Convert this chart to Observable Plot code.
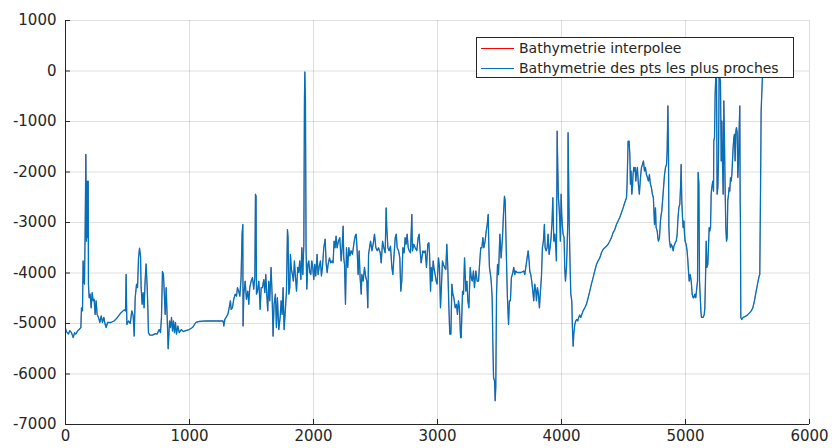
<!DOCTYPE html>
<html>
<head>
<meta charset="utf-8">
<script src="https://cdn.jsdelivr.net/npm/d3@7"></script>
<script src="https://cdn.jsdelivr.net/npm/@observablehq/plot@0.6"></script>
<style>
  html, body { margin: 0; padding: 0; background: #fff; }
  #wrap { position: relative; width: 835px; height: 448px; overflow: hidden; }
  #legend {
    position: absolute; left: 476px; top: 37px; width: 318px; height: 41px;
    background: #fff; border: 1px solid #262626; box-sizing: border-box;
    font-family: "DejaVu Sans", sans-serif; font-size: 14px; color: #262626;
  }
  #legend .row { position: absolute; left: 0; height: 20px; display: flex; align-items: center; white-space: nowrap; }
  #legend .sw { width: 33px; height: 0; border-top: 1px solid; margin-left: 4px; margin-right: 5px; }
</style>
</head>
<body>
<div id="wrap"></div>
<script>
// x tick values / y tick values
const xTicks = [0, 1000, 2000, 3000, 4000, 5000, 6000];
const yTicks = [-7000, -6000, -5000, -4000, -3000, -2000, -1000, 0, 1000];
const seriesNames = ["Bathymetrie interpolee", "Bathymetrie des pts les plus proches"];
const seriesColors = ["#FF0000", "#0072BD"];

// profile abscissa
const distance = [
  0,8,24,35,48,62,73,83,97,110,124,129,137,142,148,153,159,164,169,175,
  180,183,185,191,199,207,215,223,231,239,247,255,266,277,288,298,309,320,328,339,
  366,392,419,446,473,484,489,495,508,522,535,546,554,562,573,581,589,597,605,610,
  618,626,634,642,650,659,664,669,680,702,723,739,755,766,774,782,790,796,804,812,
  820,828,839,847,855,863,871,879,887,895,906,917,933,949,970,997,1024,1051,1078,1132,1185,
  1271,1277,1285,1295,1309,1320,1330,1336,1346,1357,1368,1379,1387,1397,1406,1416,1424,1430,1432,1438,
  1449,1459,1470,1478,1486,1497,1508,1518,1527,1532,1537,1540,1548,1559,1570,1578,1588,1599,1607,1615,
  1623,1631,1639,1647,1658,1666,1674,1682,1693,1701,1709,1720,1731,1739,1747,1755,1763,1774,1782,1790,
  1795,1801,1809,1814,1822,1830,1838,1846,1854,1863,1873,1881,1889,1898,1906,1914,1922,1927,1930,1935,
  1940,1946,1954,1962,1970,1978,1986,1994,2002,2010,2018,2029,2037,2045,2056,2064,2072,2083,2094,2102,
  2110,2118,2129,2139,2150,2158,2166,2174,2182,2190,2201,2212,2223,2231,2239,2244,2250,2258,2266,2276,
  2285,2293,2303,2314,2325,2336,2344,2352,2360,2368,
  2371,2376,2385,2390,2401,2411,2422,2430,2438,2444,2452,2460,2471,2481,2492,2503,2514,2524,2538,2546,
  2557,2567,2578,2586,2591,2600,2610,2621,2632,2640,2648,2659,2667,2675,2686,2696,2704,2712,2721,2731,
  2739,2747,2755,2764,2772,2782,2793,2798,2809,2820,2833,2844,2852,2860,2868,2874,2882,2890,2901,2911,
  2922,2930,2936,2944,2949,2957,2965,2971,2981,2989,2997,3008,3016,3024,3030,3040,3048,3057,3067,3075,
  3083,3091,3099,3108,3116,3124,3132,3143,3153,3161,3169,3177,3186,3191,3202,3210,3218,3229,3237,3245,
  3253,3264,3272,3280,3290,3298,3309,3320,3331,3341,3349,3358,3366,3374,3384,3393,3401,3409,3414,3419,
  3427,3433,3441,3446,3452,3460,3465,3470,3476,3484,3492,3503,3513,3524,3532,3540,3546,3551,3559,3564,3573,
  3580,3588,3596,3604,3615,3623,3631,3642,3674,3696,3704,3712,3723,3731,3739,3744,3752,3760,3771,3776,
  3784,3793,3798,3806,3814,3822,3830,3838,3846,3854,3862,3868,3876,3884,3892,3900,3908,3916,3924,3930,
  3938,3946,3954,3959,3965,3970,3975,3981,3986,3991,3997,4002,4008,4013,4021,4026,4032,4040,4045,4051,
  4053,4059,4064,4069,4075,4083,4088,4094,4099,4107,4115,4123,4131,4139,4147,4155,4164,4174,4188,4201,
  4215,4228,4241,4255,4268,4282,4295,4309,4322,4336,4349,4362,4376,4389,4403,4416,4430,4443,4456,4470,
  4483,4497,4510,4524,4529,4537,4545,4551,4556,4561,4567,4572,4577,4583,4588,4594,4599,4604,4612,4620,
  4628,4637,4645,4653,4661,4669,4677,4685,4693,4701,4709,4717,4725,4733,4741,4750,
  4758,4763,4772,4777,4782,4790,4798,4804,4809,4817,4825,4831,4839,4847,4852,4858,4863,4866,4871,4879,
  4884,4892,4901,4906,4917,4925,4933,4938,4946,4954,4960,4965,4970,4976,4981,4987,4992,4997,5005,5013,
  5019,5024,5030,5038,5046,5054,5062,5067,5075,5083,5091,5097,5102,5108,5113,5118,5124,5129,5142,5151,
  5156,5161,5167,5172,5180,5185,5191,5196,5202,5207,5212,5220,5226,5228,5234,5239,5245,5250,5255,5261,
  5266,5271,5277,5282,5288,5293,5298,5304,5309,5314,5320,5325,5331,5336,5341,5347,5352,5357,5363,5368,
  5374,5379,5384,5390,5395,5400,5406,5411,5417,5422,5427,5433,5438,5441,5443,5446,5454,5465,5476,5489,
  5503,5516,5530,5543,5556,5570,5583,5594,5599,5605,5610,5616,5621
];

// depth of the nearest points
const depthNearest = [
  -5100,-5160,-5210,-5140,-5180,-5280,-5180,-5210,-5150,-5120,-5080,-4690,-4750,-3760,-4160,-4220,-3040,-1650,-3370,-2180,
  -3300,-2180,-4220,-4490,-4420,-4690,-4390,-4550,-4520,-4820,-4550,-4820,-4880,-4980,-4850,-4980,-4880,-5020,-5080,-4980,
  -4980,-4950,-4880,-4790,-4730,-4750,-4030,-5020,-4950,-5000,-4750,-4850,-5250,-4490,-4220,-4290,-3700,-3510,-3660,-4290,
  -4620,-4390,-4690,-4160,-3820,-4290,-4690,-5180,-5230,-5230,-5200,-5210,-5120,-5180,-4880,-3970,-4030,-4360,-4820,-4290,
  -4880,-5500,-4950,-5080,-4880,-5150,-4950,-5180,-4980,-5210,-5050,-5180,-5120,-5160,-5140,-5120,-5080,-4980,-4960,-4950,-4950,
  -4950,-5050,-4920,-4880,-4820,-4690,-4550,-4720,-4690,-4520,-4420,-4460,-4290,-4360,-4460,-4090,-3230,-3040,-5050,-4420,
  -4160,-4520,-4360,-4620,-4290,-4160,-4090,-4320,-4090,-2440,-2480,-4420,-4360,-4160,-4720,-4290,-4290,-4130,-4390,-4030,
  -4420,-4750,-4160,-4550,-3890,-4420,-5250,-4620,-4420,-5080,-4490,-5120,-4880,-4550,-4820,-4290,-5120,-4690,-4360,-3140,
  -3300,-4420,-4290,-3630,-3930,-4030,-4160,-3760,-4060,-4360,-3890,-3990,-3760,-4130,-3500,-4030,-3430,-560,-20,-560,
  -3500,-4320,-3830,-3760,-3990,-4030,-3760,-3890,-4130,-3830,-4060,-3630,-4030,-3890,-3760,-4060,-3890,-3500,-3330,-3800,
  -3990,-3830,-3700,-3800,-3760,-3800,-3370,-3500,-3270,-3500,-3370,-3300,-3760,-3500,-3070,-3700,-3830,-4620,-3500,-3890,
  -3500,-3660,-3560,-3630,-3430,-3270,-3230,-3560,-4030,-3560,
  -3760,-4090,-4420,-4030,-4160,-3890,-4090,-4160,-4690,-3630,-3500,-3370,-3560,-3430,-3230,-3500,-3560,-3500,-3600,-3800,
  -3370,-3500,-3600,-2710,-3100,-3500,-3560,-3470,-3890,-4030,-3700,-3300,-3230,-3500,-3560,-3700,-4360,-4160,-3500,-3600,
  -3300,-3430,-3230,-3500,-3560,-3600,-2840,-3560,-3430,-3500,-3560,-3300,-3230,-3560,-3800,-3700,-3560,-3600,-3560,-3890,
  -3430,-3400,-3630,-4360,-3890,-4160,-3760,-3890,-4030,-4160,-4220,-3700,-3890,-4690,-4360,-3760,-3830,-3890,-3930,-3430,
  -3890,-4620,-5210,-5210,-4220,-4420,-4490,-4690,-4620,-4820,-4550,-4690,-5280,-5280,-4360,-4420,-3700,-4360,-4160,-4550,
  -4690,-3890,-4090,-4160,-3960,-4290,-3960,-4160,-4160,-3760,-3500,-3500,-3300,-3500,-3370,-3170,-3040,-2840,-3500,-3890,
  -4030,-4160,-4490,-5350,-6070,-6140,-6530,-6270,-4420,-3830,-4030,-3230,-3700,-3300,-2840,-2480,-2570,-3170,-4030,-4490,-5020,
  -4550,-4550,-4090,-4030,-3890,-4030,-3960,-3990,-3990,-3960,-4030,-3890,-3700,-3560,-3760,-3960,-4030,-4160,-4420,-4550,
  -4220,-4360,-4550,-4290,-4420,-4690,-4360,-4090,-3500,-3370,-3040,-3500,-3560,-3500,-3230,-3630,-3500,-3300,-2970,-2510,
  -3370,-3230,-3500,-3760,-1190,-1910,-2510,-2710,-2970,-3370,-2440,-2840,-3100,-3230,-3300,-3890,-4160,-3890,-3500,-2970,
  -1220,-2440,-3230,-3830,-4420,-4550,-5080,-5450,-5210,-5020,-4950,-4920,-4950,-4880,-4830,-4880,-4820,-4750,-4690,-4620,
  -4490,-4360,-4220,-4090,-3960,-3830,-3760,-3700,-3600,-3530,-3500,-3470,-3430,-3370,-3300,-3200,-3140,-3040,-2970,-2900,
  -2810,-2710,-2610,-2510,-2240,-1390,-1390,-1650,-2240,-1980,-2440,-2310,-2050,-1910,-1980,-1910,-2180,-2050,-1910,-2240,
  -2440,-2110,-1910,-1850,-1780,-1980,-1910,-2050,-2110,-2180,-2050,-2240,-2310,-2440,-2510,-3040,
  -2710,-3100,-3170,-3300,-3370,-3300,-2970,-2840,-2770,-2510,-2240,-2050,-1910,-1850,-1580,-690,-1650,-3100,-3370,-3500,
  -3430,-3470,-3560,-3470,-3400,-3370,-3230,-2970,-2710,-2640,-2310,-1850,-2570,-2900,-3100,-2970,-3230,-3370,-3430,-3560,
  -3760,-3960,-4160,-4030,-4160,-4420,-4490,-4490,-4420,-4490,-4290,-4160,-2010,-2240,-4160,-4420,-4750,-4880,-4880,-4820,
  -4690,-4160,-3370,-3890,-3830,-3500,-3100,-3170,-3100,-2440,-2310,-2180,-2380,-1390,-1320,-460,-70,-70,-2440,-2310,
  -1780,-130,-130,-200,-1780,-990,-1780,-2440,-590,-1320,-2380,-3100,-3370,-3300,-2570,-2440,-2310,-2380,-2110,-2180,
  -2050,-1780,-1520,-1320,-1250,-1780,-1190,-1120,-1220,-2110,-1850,-1120,-690,-2570,-2970,-4880,-4920,-4880,-4870,-4850,
  -4820,-4790,-4750,-4690,-4550,-4360,-4190,-4060,-4030,-2380,-790,-400,-70
];

const profile = distance.map((d, i) => ({distance: d, depth: depthNearest[i]}));

const ink = "#262626";
const chart = Plot.plot({
  width: 835,
  height: 448,
  marginLeft: 65,
  marginRight: 26,
  marginTop: 20,
  marginBottom: 24,
  style: {fontFamily: "'DejaVu Sans', sans-serif", fontSize: "15px", color: ink, background: "#fff", overflow: "visible"},
  x: {domain: [0, 6000]},
  y: {domain: [-7000, 1000]},
  marks: [
    Plot.gridX(xTicks, {stroke: ink, strokeOpacity: 0.15, strokeWidth: 1}),
    Plot.gridY(yTicks, {stroke: ink, strokeOpacity: 0.15, strokeWidth: 1}),
    Plot.line(profile, {x: "distance", y: "depth", stroke: seriesColors[0], strokeWidth: 0.5}),
    Plot.line(profile, {x: "distance", y: "depth", stroke: seriesColors[1], strokeWidth: 1.3}),
    Plot.ruleX([xTicks[0]], {stroke: ink}),
    Plot.ruleY([yTicks[0]], {stroke: ink}),
    // inward tick marks (about 5 px long)
    Plot.ruleY(yTicks, {x1: xTicks[0], x2: 40, stroke: ink}),
    Plot.ruleX(xTicks, {y1: yTicks[0], y2: -6900, stroke: ink}),
    Plot.axisX(xTicks, {tickSize: 0, tickPadding: 6, tickFormat: d => String(d), label: null, fill: ink}),
    Plot.axisY(yTicks, {tickSize: 0, tickPadding: 9, tickFormat: d => String(d), label: null, fill: ink})
  ]
});

const wrap = document.getElementById("wrap");
wrap.appendChild(chart);

const legend = document.createElement("div");
legend.id = "legend";
seriesNames.forEach((name, i) => {
  const row = document.createElement("div");
  row.className = "row";
  row.style.top = (i * 20) + "px";
  const sw = document.createElement("span");
  sw.className = "sw";
  sw.style.borderTopColor = seriesColors[i];
  const label = document.createElement("span");
  label.textContent = name;
  row.appendChild(sw);
  row.appendChild(label);
  legend.appendChild(row);
});
wrap.appendChild(legend);
</script>
</body>
</html>
